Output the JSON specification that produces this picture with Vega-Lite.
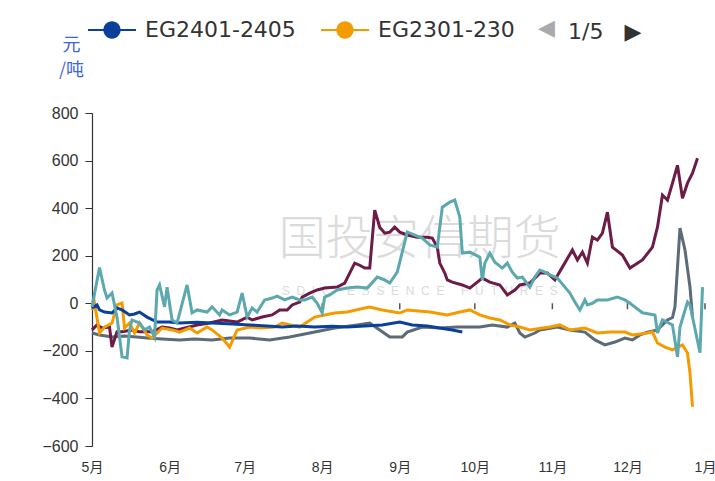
{
  "$schema": "https://vega.github.io/schema/vega-lite/v6.json",
  "width": 613,
  "height": 333,
  "autosize": {"type": "none"},
  "padding": {"left": 92, "top": 113, "right": 10, "bottom": 35},
  "background": "white",
  "config": {"view": {"stroke": null}, "font": "Liberation Sans, Noto Sans CJK SC"},
  "title": {
    "text": "◀",
    "anchor": "start",
    "frame": "group",
    "dx": 446,
    "offset": -34,
    "color": "#aaaaaa",
    "fontSize": 22,
    "fontWeight": "normal",
    "font": "DejaVu Sans"
  },
  "datasets": {
    "watermark": [
      {"label": "国投安信期货", "date": "2023/09/09", "value": 265},
      {"label": "S\u00a0\u00a0D\u00a0\u00a0I\u00a0\u00a0C\u00a0\u00a0\u00a0\u00a0\u00a0E\u00a0\u00a0S\u00a0\u00a0S\u00a0\u00a0E\u00a0\u00a0N\u00a0\u00a0C\u00a0\u00a0E\u00a0\u00a0\u00a0\u00a0\u00a0F\u00a0\u00a0U\u00a0\u00a0T\u00a0\u00a0U\u00a0\u00a0R\u00a0\u00a0E\u00a0\u00a0S", "date": "2023/09/09", "value": 50}
    ],
    "months": [
      {"date": "2023/05/01"}, {"date": "2023/06/01"}, {"date": "2023/07/01"}, {"date": "2023/08/01"},
      {"date": "2023/09/01"}, {"date": "2023/10/01"}, {"date": "2023/11/01"}, {"date": "2023/12/01"}, {"date": "2024/01/01"}
    ],
    "series": [
      {"series": "EG2201-2205", "date": "2023/05/01", "value": -125},
      {"series": "EG2201-2205", "date": "2023/05/04", "value": -133},
      {"series": "EG2201-2205", "date": "2023/05/09", "value": -142},
      {"series": "EG2201-2205", "date": "2023/05/14", "value": -138},
      {"series": "EG2201-2205", "date": "2023/05/19", "value": -142},
      {"series": "EG2201-2205", "date": "2023/05/23", "value": -146},
      {"series": "EG2201-2205", "date": "2023/05/29", "value": -150},
      {"series": "EG2201-2205", "date": "2023/06/05", "value": -154},
      {"series": "EG2201-2205", "date": "2023/06/11", "value": -150},
      {"series": "EG2201-2205", "date": "2023/06/18", "value": -154},
      {"series": "EG2201-2205", "date": "2023/06/25", "value": -146},
      {"series": "EG2201-2205", "date": "2023/07/03", "value": -146},
      {"series": "EG2201-2205", "date": "2023/07/11", "value": -154},
      {"series": "EG2201-2205", "date": "2023/07/19", "value": -142},
      {"series": "EG2201-2205", "date": "2023/07/29", "value": -121},
      {"series": "EG2201-2205", "date": "2023/08/06", "value": -104},
      {"series": "EG2201-2205", "date": "2023/08/15", "value": -91},
      {"series": "EG2201-2205", "date": "2023/08/20", "value": -83},
      {"series": "EG2201-2205", "date": "2023/08/24", "value": -112},
      {"series": "EG2201-2205", "date": "2023/08/28", "value": -142},
      {"series": "EG2201-2205", "date": "2023/09/02", "value": -142},
      {"series": "EG2201-2205", "date": "2023/09/04", "value": -121},
      {"series": "EG2201-2205", "date": "2023/09/10", "value": -100},
      {"series": "EG2201-2205", "date": "2023/09/17", "value": -104},
      {"series": "EG2201-2205", "date": "2023/09/24", "value": -100},
      {"series": "EG2201-2205", "date": "2023/10/03", "value": -100},
      {"series": "EG2201-2205", "date": "2023/10/08", "value": -91},
      {"series": "EG2201-2205", "date": "2023/10/14", "value": -100},
      {"series": "EG2201-2205", "date": "2023/10/17", "value": -83},
      {"series": "EG2201-2205", "date": "2023/10/19", "value": -125},
      {"series": "EG2201-2205", "date": "2023/10/21", "value": -142},
      {"series": "EG2201-2205", "date": "2023/10/25", "value": -125},
      {"series": "EG2201-2205", "date": "2023/10/27", "value": -112},
      {"series": "EG2201-2205", "date": "2023/11/03", "value": -100},
      {"series": "EG2201-2205", "date": "2023/11/08", "value": -112},
      {"series": "EG2201-2205", "date": "2023/11/14", "value": -121},
      {"series": "EG2201-2205", "date": "2023/11/18", "value": -154},
      {"series": "EG2201-2205", "date": "2023/11/22", "value": -175},
      {"series": "EG2201-2205", "date": "2023/11/26", "value": -163},
      {"series": "EG2201-2205", "date": "2023/11/30", "value": -146},
      {"series": "EG2201-2205", "date": "2023/12/03", "value": -154},
      {"series": "EG2201-2205", "date": "2023/12/06", "value": -133},
      {"series": "EG2201-2205", "date": "2023/12/09", "value": -122},
      {"series": "EG2201-2205", "date": "2023/12/13", "value": -112},
      {"series": "EG2201-2205", "date": "2023/12/17", "value": -70},
      {"series": "EG2201-2205", "date": "2023/12/19", "value": -60},
      {"series": "EG2201-2205", "date": "2023/12/20", "value": -15},
      {"series": "EG2201-2205", "date": "2023/12/22", "value": 316},
      {"series": "EG2201-2205", "date": "2023/12/24", "value": 224},
      {"series": "EG2201-2205", "date": "2023/12/26", "value": 68},
      {"series": "EG2201-2205", "date": "2023/12/27", "value": -58},

      {"series": "EG2101-2105", "date": "2023/05/01", "value": -112},
      {"series": "EG2101-2105", "date": "2023/05/03", "value": -91},
      {"series": "EG2101-2105", "date": "2023/05/05", "value": -104},
      {"series": "EG2101-2105", "date": "2023/05/08", "value": -100},
      {"series": "EG2101-2105", "date": "2023/05/09", "value": -184},
      {"series": "EG2101-2105", "date": "2023/05/11", "value": -120},
      {"series": "EG2101-2105", "date": "2023/05/13", "value": -120},
      {"series": "EG2101-2105", "date": "2023/05/17", "value": -112},
      {"series": "EG2101-2105", "date": "2023/05/20", "value": -120},
      {"series": "EG2101-2105", "date": "2023/05/25", "value": -120},
      {"series": "EG2101-2105", "date": "2023/05/29", "value": -100},
      {"series": "EG2101-2105", "date": "2023/06/01", "value": -104},
      {"series": "EG2101-2105", "date": "2023/06/04", "value": -112},
      {"series": "EG2101-2105", "date": "2023/06/12", "value": -91},
      {"series": "EG2101-2105", "date": "2023/06/17", "value": -83},
      {"series": "EG2101-2105", "date": "2023/06/22", "value": -70},
      {"series": "EG2101-2105", "date": "2023/06/28", "value": -79},
      {"series": "EG2101-2105", "date": "2023/07/02", "value": -58},
      {"series": "EG2101-2105", "date": "2023/07/04", "value": -70},
      {"series": "EG2101-2105", "date": "2023/07/08", "value": -58},
      {"series": "EG2101-2105", "date": "2023/07/12", "value": -49},
      {"series": "EG2101-2105", "date": "2023/07/15", "value": -28},
      {"series": "EG2101-2105", "date": "2023/07/18", "value": -28},
      {"series": "EG2101-2105", "date": "2023/07/20", "value": -7},
      {"series": "EG2101-2105", "date": "2023/07/23", "value": 5},
      {"series": "EG2101-2105", "date": "2023/07/24", "value": 26},
      {"series": "EG2101-2105", "date": "2023/07/27", "value": 43},
      {"series": "EG2101-2105", "date": "2023/07/30", "value": 56},
      {"series": "EG2101-2105", "date": "2023/08/02", "value": 64},
      {"series": "EG2101-2105", "date": "2023/08/07", "value": 68},
      {"series": "EG2101-2105", "date": "2023/08/10", "value": 85},
      {"series": "EG2101-2105", "date": "2023/08/12", "value": 127},
      {"series": "EG2101-2105", "date": "2023/08/14", "value": 169},
      {"series": "EG2101-2105", "date": "2023/08/16", "value": 160},
      {"series": "EG2101-2105", "date": "2023/08/18", "value": 148},
      {"series": "EG2101-2105", "date": "2023/08/20", "value": 148},
      {"series": "EG2101-2105", "date": "2023/08/22", "value": 392},
      {"series": "EG2101-2105", "date": "2023/08/24", "value": 320},
      {"series": "EG2101-2105", "date": "2023/08/26", "value": 295},
      {"series": "EG2101-2105", "date": "2023/08/28", "value": 299},
      {"series": "EG2101-2105", "date": "2023/08/30", "value": 320},
      {"series": "EG2101-2105", "date": "2023/09/01", "value": 299},
      {"series": "EG2101-2105", "date": "2023/09/04", "value": 287},
      {"series": "EG2101-2105", "date": "2023/09/08", "value": 278},
      {"series": "EG2101-2105", "date": "2023/09/12", "value": 278},
      {"series": "EG2101-2105", "date": "2023/09/14", "value": 274},
      {"series": "EG2101-2105", "date": "2023/09/16", "value": 236},
      {"series": "EG2101-2105", "date": "2023/09/17", "value": 169},
      {"series": "EG2101-2105", "date": "2023/09/19", "value": 127},
      {"series": "EG2101-2105", "date": "2023/09/20", "value": 98},
      {"series": "EG2101-2105", "date": "2023/09/22", "value": 89},
      {"series": "EG2101-2105", "date": "2023/09/26", "value": 77},
      {"series": "EG2101-2105", "date": "2023/09/29", "value": 64},
      {"series": "EG2101-2105", "date": "2023/10/02", "value": 89},
      {"series": "EG2101-2105", "date": "2023/10/04", "value": 106},
      {"series": "EG2101-2105", "date": "2023/10/07", "value": 89},
      {"series": "EG2101-2105", "date": "2023/10/11", "value": 77},
      {"series": "EG2101-2105", "date": "2023/10/14", "value": 35},
      {"series": "EG2101-2105", "date": "2023/10/17", "value": 56},
      {"series": "EG2101-2105", "date": "2023/10/19", "value": 77},
      {"series": "EG2101-2105", "date": "2023/10/23", "value": 85},
      {"series": "EG2101-2105", "date": "2023/10/27", "value": 127},
      {"series": "EG2101-2105", "date": "2023/10/30", "value": 127},
      {"series": "EG2101-2105", "date": "2023/11/02", "value": 98},
      {"series": "EG2101-2105", "date": "2023/11/05", "value": 152},
      {"series": "EG2101-2105", "date": "2023/11/09", "value": 224},
      {"series": "EG2101-2105", "date": "2023/11/11", "value": 182},
      {"series": "EG2101-2105", "date": "2023/11/13", "value": 215},
      {"series": "EG2101-2105", "date": "2023/11/15", "value": 169},
      {"series": "EG2101-2105", "date": "2023/11/17", "value": 278},
      {"series": "EG2101-2105", "date": "2023/11/19", "value": 266},
      {"series": "EG2101-2105", "date": "2023/11/21", "value": 295},
      {"series": "EG2101-2105", "date": "2023/11/23", "value": 383},
      {"series": "EG2101-2105", "date": "2023/11/25", "value": 236},
      {"series": "EG2101-2105", "date": "2023/11/29", "value": 203},
      {"series": "EG2101-2105", "date": "2023/12/02", "value": 148},
      {"series": "EG2101-2105", "date": "2023/12/07", "value": 182},
      {"series": "EG2101-2105", "date": "2023/12/11", "value": 236},
      {"series": "EG2101-2105", "date": "2023/12/13", "value": 320},
      {"series": "EG2101-2105", "date": "2023/12/15", "value": 455},
      {"series": "EG2101-2105", "date": "2023/12/17", "value": 434},
      {"series": "EG2101-2105", "date": "2023/12/19", "value": 505},
      {"series": "EG2101-2105", "date": "2023/12/21", "value": 580},
      {"series": "EG2101-2105", "date": "2023/12/23", "value": 442},
      {"series": "EG2101-2105", "date": "2023/12/25", "value": 505},
      {"series": "EG2101-2105", "date": "2023/12/27", "value": 547},
      {"series": "EG2101-2105", "date": "2023/12/29", "value": 610},

      {"series": "EG2301-2305", "date": "2023/05/01", "value": -28},
      {"series": "EG2301-2305", "date": "2023/05/02", "value": 1},
      {"series": "EG2301-2305", "date": "2023/05/04", "value": -125},
      {"series": "EG2301-2305", "date": "2023/05/06", "value": -100},
      {"series": "EG2301-2305", "date": "2023/05/09", "value": -83},
      {"series": "EG2301-2305", "date": "2023/05/11", "value": -7},
      {"series": "EG2301-2305", "date": "2023/05/13", "value": 1},
      {"series": "EG2301-2305", "date": "2023/05/14", "value": -104},
      {"series": "EG2301-2305", "date": "2023/05/16", "value": -83},
      {"series": "EG2301-2305", "date": "2023/05/18", "value": -125},
      {"series": "EG2301-2305", "date": "2023/05/20", "value": -83},
      {"series": "EG2301-2305", "date": "2023/05/23", "value": -133},
      {"series": "EG2301-2305", "date": "2023/05/25", "value": -146},
      {"series": "EG2301-2305", "date": "2023/05/29", "value": -104},
      {"series": "EG2301-2305", "date": "2023/06/02", "value": -112},
      {"series": "EG2301-2305", "date": "2023/06/05", "value": -121},
      {"series": "EG2301-2305", "date": "2023/06/09", "value": -104},
      {"series": "EG2301-2305", "date": "2023/06/12", "value": -125},
      {"series": "EG2301-2305", "date": "2023/06/16", "value": -100},
      {"series": "EG2301-2305", "date": "2023/06/18", "value": -112},
      {"series": "EG2301-2305", "date": "2023/06/22", "value": -146},
      {"series": "EG2301-2305", "date": "2023/06/25", "value": -184},
      {"series": "EG2301-2305", "date": "2023/06/28", "value": -112},
      {"series": "EG2301-2305", "date": "2023/07/03", "value": -100},
      {"series": "EG2301-2305", "date": "2023/07/08", "value": -104},
      {"series": "EG2301-2305", "date": "2023/07/13", "value": -100},
      {"series": "EG2301-2305", "date": "2023/07/16", "value": -83},
      {"series": "EG2301-2305", "date": "2023/07/23", "value": -100},
      {"series": "EG2301-2305", "date": "2023/07/29", "value": -58},
      {"series": "EG2301-2305", "date": "2023/08/06", "value": -41},
      {"series": "EG2301-2305", "date": "2023/08/11", "value": -37},
      {"series": "EG2301-2305", "date": "2023/08/18", "value": -20},
      {"series": "EG2301-2305", "date": "2023/08/20", "value": -16},
      {"series": "EG2301-2305", "date": "2023/08/25", "value": -28},
      {"series": "EG2301-2305", "date": "2023/09/01", "value": -41},
      {"series": "EG2301-2305", "date": "2023/09/04", "value": -28},
      {"series": "EG2301-2305", "date": "2023/09/13", "value": -37},
      {"series": "EG2301-2305", "date": "2023/09/20", "value": -49},
      {"series": "EG2301-2305", "date": "2023/09/25", "value": -37},
      {"series": "EG2301-2305", "date": "2023/09/29", "value": -28},
      {"series": "EG2301-2305", "date": "2023/10/03", "value": -49},
      {"series": "EG2301-2305", "date": "2023/10/07", "value": -62},
      {"series": "EG2301-2305", "date": "2023/10/11", "value": -70},
      {"series": "EG2301-2305", "date": "2023/10/15", "value": -91},
      {"series": "EG2301-2305", "date": "2023/10/19", "value": -100},
      {"series": "EG2301-2305", "date": "2023/10/23", "value": -112},
      {"series": "EG2301-2305", "date": "2023/10/28", "value": -104},
      {"series": "EG2301-2305", "date": "2023/10/31", "value": -100},
      {"series": "EG2301-2305", "date": "2023/11/04", "value": -91},
      {"series": "EG2301-2305", "date": "2023/11/08", "value": -112},
      {"series": "EG2301-2305", "date": "2023/11/14", "value": -104},
      {"series": "EG2301-2305", "date": "2023/11/19", "value": -125},
      {"series": "EG2301-2305", "date": "2023/11/24", "value": -121},
      {"series": "EG2301-2305", "date": "2023/11/30", "value": -121},
      {"series": "EG2301-2305", "date": "2023/12/03", "value": -133},
      {"series": "EG2301-2305", "date": "2023/12/09", "value": -125},
      {"series": "EG2301-2305", "date": "2023/12/11", "value": -121},
      {"series": "EG2301-2305", "date": "2023/12/13", "value": -167},
      {"series": "EG2301-2305", "date": "2023/12/16", "value": -184},
      {"series": "EG2301-2305", "date": "2023/12/19", "value": -196},
      {"series": "EG2301-2305", "date": "2023/12/23", "value": -175},
      {"series": "EG2301-2305", "date": "2023/12/25", "value": -209},
      {"series": "EG2301-2305", "date": "2023/12/26", "value": -293},
      {"series": "EG2301-2305", "date": "2023/12/27", "value": -435},

      {"series": "EG2401-2405", "date": "2023/05/01", "value": -20},
      {"series": "EG2401-2405", "date": "2023/05/03", "value": -7},
      {"series": "EG2401-2405", "date": "2023/05/04", "value": -28},
      {"series": "EG2401-2405", "date": "2023/05/06", "value": -37},
      {"series": "EG2401-2405", "date": "2023/05/09", "value": -41},
      {"series": "EG2401-2405", "date": "2023/05/11", "value": -20},
      {"series": "EG2401-2405", "date": "2023/05/13", "value": -28},
      {"series": "EG2401-2405", "date": "2023/05/16", "value": -49},
      {"series": "EG2401-2405", "date": "2023/05/18", "value": -45},
      {"series": "EG2401-2405", "date": "2023/05/20", "value": -37},
      {"series": "EG2401-2405", "date": "2023/05/23", "value": -58},
      {"series": "EG2401-2405", "date": "2023/05/27", "value": -79},
      {"series": "EG2401-2405", "date": "2023/06/01", "value": -79},
      {"series": "EG2401-2405", "date": "2023/06/05", "value": -83},
      {"series": "EG2401-2405", "date": "2023/06/12", "value": -80},
      {"series": "EG2401-2405", "date": "2023/06/18", "value": -83},
      {"series": "EG2401-2405", "date": "2023/06/26", "value": -87},
      {"series": "EG2401-2405", "date": "2023/07/03", "value": -91},
      {"series": "EG2401-2405", "date": "2023/07/10", "value": -95},
      {"series": "EG2401-2405", "date": "2023/07/16", "value": -100},
      {"series": "EG2401-2405", "date": "2023/07/22", "value": -96},
      {"series": "EG2401-2405", "date": "2023/07/29", "value": -100},
      {"series": "EG2401-2405", "date": "2023/08/05", "value": -97},
      {"series": "EG2401-2405", "date": "2023/08/11", "value": -100},
      {"series": "EG2401-2405", "date": "2023/08/18", "value": -95},
      {"series": "EG2401-2405", "date": "2023/08/25", "value": -91},
      {"series": "EG2401-2405", "date": "2023/09/01", "value": -79},
      {"series": "EG2401-2405", "date": "2023/09/06", "value": -91},
      {"series": "EG2401-2405", "date": "2023/09/12", "value": -95},
      {"series": "EG2401-2405", "date": "2023/09/17", "value": -104},
      {"series": "EG2401-2405", "date": "2023/09/22", "value": -112},
      {"series": "EG2401-2405", "date": "2023/09/26", "value": -121},

      {"series": "EG2001-2005", "date": "2023/05/01", "value": -15},
      {"series": "EG2001-2005", "date": "2023/05/04", "value": 150},
      {"series": "EG2001-2005", "date": "2023/05/06", "value": 55},
      {"series": "EG2001-2005", "date": "2023/05/07", "value": 22},
      {"series": "EG2001-2005", "date": "2023/05/09", "value": 43},
      {"series": "EG2001-2005", "date": "2023/05/11", "value": -58},
      {"series": "EG2001-2005", "date": "2023/05/13", "value": -225},
      {"series": "EG2001-2005", "date": "2023/05/15", "value": -230},
      {"series": "EG2001-2005", "date": "2023/05/16", "value": -112},
      {"series": "EG2001-2005", "date": "2023/05/17", "value": -70},
      {"series": "EG2001-2005", "date": "2023/05/20", "value": -83},
      {"series": "EG2001-2005", "date": "2023/05/22", "value": -112},
      {"series": "EG2001-2005", "date": "2023/05/24", "value": -100},
      {"series": "EG2001-2005", "date": "2023/05/26", "value": -142},
      {"series": "EG2001-2005", "date": "2023/05/27", "value": 56},
      {"series": "EG2001-2005", "date": "2023/05/28", "value": 77},
      {"series": "EG2001-2005", "date": "2023/05/30", "value": -15},
      {"series": "EG2001-2005", "date": "2023/05/31", "value": 68},
      {"series": "EG2001-2005", "date": "2023/06/02", "value": -70},
      {"series": "EG2001-2005", "date": "2023/06/04", "value": -83},
      {"series": "EG2001-2005", "date": "2023/06/08", "value": 77},
      {"series": "EG2001-2005", "date": "2023/06/10", "value": -40},
      {"series": "EG2001-2005", "date": "2023/06/12", "value": -28},
      {"series": "EG2001-2005", "date": "2023/06/16", "value": -37},
      {"series": "EG2001-2005", "date": "2023/06/18", "value": -15},
      {"series": "EG2001-2005", "date": "2023/06/21", "value": -49},
      {"series": "EG2001-2005", "date": "2023/06/22", "value": -28},
      {"series": "EG2001-2005", "date": "2023/06/25", "value": -49},
      {"series": "EG2001-2005", "date": "2023/06/28", "value": -37},
      {"series": "EG2001-2005", "date": "2023/06/30", "value": 43},
      {"series": "EG2001-2005", "date": "2023/07/02", "value": -58},
      {"series": "EG2001-2005", "date": "2023/07/04", "value": -20},
      {"series": "EG2001-2005", "date": "2023/07/06", "value": -37},
      {"series": "EG2001-2005", "date": "2023/07/09", "value": 14},
      {"series": "EG2001-2005", "date": "2023/07/12", "value": 22},
      {"series": "EG2001-2005", "date": "2023/07/14", "value": 30},
      {"series": "EG2001-2005", "date": "2023/07/17", "value": 14},
      {"series": "EG2001-2005", "date": "2023/07/20", "value": 26},
      {"series": "EG2001-2005", "date": "2023/07/23", "value": 14},
      {"series": "EG2001-2005", "date": "2023/07/25", "value": 14},
      {"series": "EG2001-2005", "date": "2023/07/28", "value": 26},
      {"series": "EG2001-2005", "date": "2023/07/30", "value": 0},
      {"series": "EG2001-2005", "date": "2023/08/01", "value": -40},
      {"series": "EG2001-2005", "date": "2023/08/02", "value": 26},
      {"series": "EG2001-2005", "date": "2023/08/04", "value": 35},
      {"series": "EG2001-2005", "date": "2023/08/07", "value": 56},
      {"series": "EG2001-2005", "date": "2023/08/11", "value": 64},
      {"series": "EG2001-2005", "date": "2023/08/15", "value": 68},
      {"series": "EG2001-2005", "date": "2023/08/19", "value": 64},
      {"series": "EG2001-2005", "date": "2023/08/23", "value": 110},
      {"series": "EG2001-2005", "date": "2023/08/26", "value": 98},
      {"series": "EG2001-2005", "date": "2023/08/28", "value": 85},
      {"series": "EG2001-2005", "date": "2023/08/31", "value": 131},
      {"series": "EG2001-2005", "date": "2023/09/02", "value": 215},
      {"series": "EG2001-2005", "date": "2023/09/04", "value": 300},
      {"series": "EG2001-2005", "date": "2023/09/07", "value": 287},
      {"series": "EG2001-2005", "date": "2023/09/10", "value": 274},
      {"series": "EG2001-2005", "date": "2023/09/13", "value": 245},
      {"series": "EG2001-2005", "date": "2023/09/16", "value": 236},
      {"series": "EG2001-2005", "date": "2023/09/18", "value": 404},
      {"series": "EG2001-2005", "date": "2023/09/21", "value": 425},
      {"series": "EG2001-2005", "date": "2023/09/23", "value": 434},
      {"series": "EG2001-2005", "date": "2023/09/25", "value": 362},
      {"series": "EG2001-2005", "date": "2023/09/26", "value": 211},
      {"series": "EG2001-2005", "date": "2023/09/29", "value": 215},
      {"series": "EG2001-2005", "date": "2023/10/03", "value": 194},
      {"series": "EG2001-2005", "date": "2023/10/04", "value": 98},
      {"series": "EG2001-2005", "date": "2023/10/05", "value": 169},
      {"series": "EG2001-2005", "date": "2023/10/07", "value": 211},
      {"series": "EG2001-2005", "date": "2023/10/09", "value": 173},
      {"series": "EG2001-2005", "date": "2023/10/12", "value": 148},
      {"series": "EG2001-2005", "date": "2023/10/14", "value": 169},
      {"series": "EG2001-2005", "date": "2023/10/16", "value": 131},
      {"series": "EG2001-2005", "date": "2023/10/18", "value": 106},
      {"series": "EG2001-2005", "date": "2023/10/20", "value": 110},
      {"series": "EG2001-2005", "date": "2023/10/23", "value": 68},
      {"series": "EG2001-2005", "date": "2023/10/25", "value": 110},
      {"series": "EG2001-2005", "date": "2023/10/27", "value": 140},
      {"series": "EG2001-2005", "date": "2023/10/29", "value": 131},
      {"series": "EG2001-2005", "date": "2023/10/31", "value": 119},
      {"series": "EG2001-2005", "date": "2023/11/03", "value": 106},
      {"series": "EG2001-2005", "date": "2023/11/06", "value": 68},
      {"series": "EG2001-2005", "date": "2023/11/08", "value": 43},
      {"series": "EG2001-2005", "date": "2023/11/10", "value": 5},
      {"series": "EG2001-2005", "date": "2023/11/12", "value": -28},
      {"series": "EG2001-2005", "date": "2023/11/14", "value": 14},
      {"series": "EG2001-2005", "date": "2023/11/15", "value": -7},
      {"series": "EG2001-2005", "date": "2023/11/17", "value": 0},
      {"series": "EG2001-2005", "date": "2023/11/19", "value": 14},
      {"series": "EG2001-2005", "date": "2023/11/23", "value": 14},
      {"series": "EG2001-2005", "date": "2023/11/27", "value": 26},
      {"series": "EG2001-2005", "date": "2023/11/30", "value": 14},
      {"series": "EG2001-2005", "date": "2023/12/02", "value": 0},
      {"series": "EG2001-2005", "date": "2023/12/07", "value": -40},
      {"series": "EG2001-2005", "date": "2023/12/12", "value": -49},
      {"series": "EG2001-2005", "date": "2023/12/13", "value": -125},
      {"series": "EG2001-2005", "date": "2023/12/15", "value": -70},
      {"series": "EG2001-2005", "date": "2023/12/19", "value": -91},
      {"series": "EG2001-2005", "date": "2023/12/21", "value": -225},
      {"series": "EG2001-2005", "date": "2023/12/22", "value": -100},
      {"series": "EG2001-2005", "date": "2023/12/25", "value": 5},
      {"series": "EG2001-2005", "date": "2023/12/26", "value": -7},
      {"series": "EG2001-2005", "date": "2023/12/30", "value": -208},
      {"series": "EG2001-2005", "date": "2023/12/31", "value": 68}
    ]
  },
  "layer": [
    {
      "data": {"name": "watermark"},
      "transform": [{"filter": "datum.value > 100"}],
      "mark": {"type": "text", "font": "Noto Sans CJK SC", "fontSize": 47, "fontWeight": 300, "color": "#cfcfcf", "opacity": 0.75},
      "encoding": {
        "x": {"field": "date", "type": "temporal"},
        "y": {"field": "value", "type": "quantitative"},
        "text": {"field": "label"}
      }
    },
    {
      "data": {"name": "watermark"},
      "transform": [{"filter": "datum.value < 100"}],
      "mark": {"type": "text", "font": "Liberation Sans", "fontSize": 12, "color": "#cfcfcf", "opacity": 0.75},
      "encoding": {
        "x": {"field": "date", "type": "temporal"},
        "y": {"field": "value", "type": "quantitative"},
        "text": {"field": "label"}
      }
    },
    {
      "mark": {"type": "rule", "color": "#555555", "strokeWidth": 1.5},
      "encoding": {"y": {"datum": 0, "type": "quantitative"}}
    },
    {
      "data": {"name": "months"},
      "mark": {"type": "rule", "color": "#555555", "strokeWidth": 1.5},
      "encoding": {
        "x": {"field": "date", "type": "temporal"},
        "y": {"datum": 0, "type": "quantitative"},
        "y2": {"datum": -25}
      }
    },
    {
      "data": {"name": "series"},
      "mark": {"type": "line", "strokeWidth": 3, "interpolate": "linear"},
      "encoding": {
        "x": {
          "field": "date",
          "type": "temporal",
          "scale": {"domain": [{"year": 2023, "month": 5, "date": 1}, {"year": 2024, "month": 1, "date": 1}]},
          "axis": {
            "values": [
              {"year": 2023, "month": 5, "date": 1}, {"year": 2023, "month": 6, "date": 1}, {"year": 2023, "month": 7, "date": 1},
              {"year": 2023, "month": 8, "date": 1}, {"year": 2023, "month": 9, "date": 1}, {"year": 2023, "month": 10, "date": 1},
              {"year": 2023, "month": 11, "date": 1}, {"year": 2023, "month": 12, "date": 1}, {"year": 2024, "month": 1, "date": 1}
            ],
            "format": "%-m月",
            "title": null,
            "domain": false,
            "ticks": false,
            "grid": false,
            "labelPadding": 14,
            "labelFontSize": 14,
            "labelColor": "#333333",
            "labelFont": "Liberation Sans, Noto Sans CJK SC",
            "labelFlush": false,
            "labelOverlap": false
          }
        },
        "y": {
          "field": "value",
          "type": "quantitative",
          "scale": {"domain": [-600, 800], "nice": false, "zero": false},
          "axis": {
            "values": [-600, -400, -200, 0, 200, 400, 600, 800],
            "grid": false,
            "domainColor": "#333333",
            "domainWidth": 1.2,
            "tickColor": "#333333",
            "tickSize": 7,
            "labelFontSize": 16,
            "labelColor": "#333333",
            "labelPadding": 7,
            "title": ["元", "/吨"],
            "titleAngle": 0,
            "titleX": -21,
            "titleY": -77,
            "titleAlign": "center",
            "titleBaseline": "top",
            "titleFont": "Noto Sans CJK SC",
            "titleFontSize": 18,
            "titleFontWeight": "normal",
            "titleColor": "#3f66d8",
            "titleLineHeight": 25
          }
        },
        "color": {
          "field": "series",
          "type": "nominal",
          "sort": null,
          "scale": {
            "domain": ["EG2401-2405", "EG2301-2305", "EG2201-2205", "EG2101-2105", "EG2001-2005"],
            "range": ["#0b3f9c", "#f49b00", "#5b6b77", "#6d1b47", "#5ba9ae"]
          },
          "legend": {
            "values": ["EG2401-2405", "EG2301-2305"],
            "orient": "none",
            "legendX": -4,
            "legendY": -107,
            "direction": "horizontal",
            "title": "1/5\u00a0\u00a0\u00a0▶",
            "titleOrient": "right",
            "titleAnchor": "middle",
            "titleBaseline": "middle",
            "titlePadding": 53,
            "titleFont": "DejaVu Sans",
            "titleFontSize": 22,
            "titleFontWeight": "normal",
            "titleColor": "#333333",
            "padding": 0,
            "symbolType": "M-1,-0.045H1V0.045H-1Z M-0.36,0A0.36,0.36 0 1,1 0.36,0A0.36,0.36 0 1,1 -0.36,0Z",
            "symbolSize": 2304,
            "symbolStrokeWidth": 0,
            "labelFontSize": 22,
            "labelColor": "#333333",
            "labelFont": "DejaVu Sans",
            "labelLimit": 0,
            "labelOffset": 9,
            "columnPadding": 25,
            "labelExpr": "datum.label == 'EG2301-2305' ? 'EG2301-230' : datum.label",
            "encode": {
              "symbols": {"update": {"fill": {"scale": "color", "field": "value"}, "stroke": {"value": "transparent"}, "opacity": {"value": 1}}},
              "title": {"update": {"dy": {"value": 8}}}
            }
          }
        }
      }
    }
  ]
}
